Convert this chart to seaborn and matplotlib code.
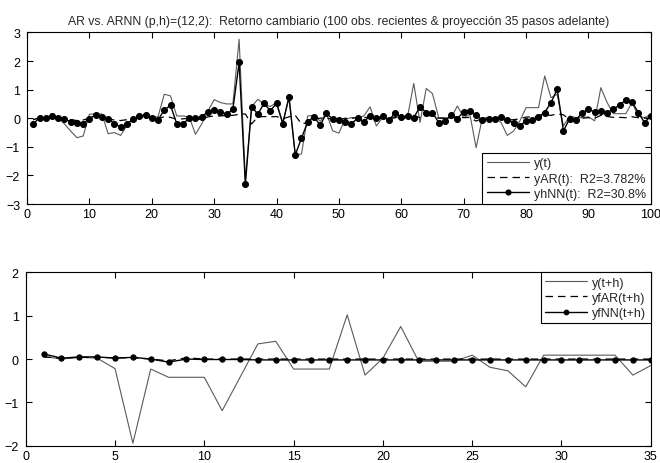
import numpy as np
import pandas as pd
import seaborn as sns
import matplotlib
matplotlib.use("Agg")
import matplotlib.pyplot as plt

# ---------------- data ----------------
t_top = list(range(1, 101))
y_t = [-0.05, 0.0, 0.02, 0.05, 0.05, -0.2, -0.45, -0.68, -0.62, 0.14,
       0.15, 0.15, -0.54, -0.5, -0.6, -0.25, 0.0, 0.05, 0.08, 0.05,
       0.05, 0.84, 0.78, 0.08, 0.08, 0.05, -0.56, -0.2, 0.25, 0.65,
       0.55, 0.5, 0.5, 2.76, -2.15, 0.41, 0.66, 0.49, 0.41, 0.55,
       -0.15, 0.72, -1.28, -1.25, 0.08, 0.1, -0.1, 0.17, -0.44, -0.52,
       -0.03, 0.02, 0.02, 0.08, 0.4, -0.27, 0.02, -0.03, 0.02, 0.05,
       0.05, 1.22, -0.15, 1.04, 0.86, 0.02, 0.02, 0.02, 0.43, 0.02,
       0.14, -1.03, 0.02, 0.0, 0.0, -0.15, -0.6, -0.45, -0.1, 0.37,
       0.37, 0.37, 1.48, 0.72, 0.84, -0.27, 0.08, 0.02, 0.02, 0.05,
       -0.09, 1.07, 0.55, 0.16, 0.16, 0.16, 0.55, 0.08, 0.02, 0.14]
yAR_t = [-0.05, 0.02, 0.0, 0.03, 0.02, 0.0, -0.05, -0.08, -0.06, 0.0,
         0.05, 0.04, -0.03, -0.06, -0.08, -0.05, 0.0, 0.02, 0.03, 0.02,
         0.0, 0.05, 0.03, -0.04, -0.02, 0.0, -0.05, -0.03, 0.05, 0.08,
         0.08, 0.1, 0.1, 0.14, 0.15, -0.2, 0.05, 0.06, 0.05, 0.06,
         -0.02, 0.05, 0.1, -0.2, -0.15, -0.02, 0.0, 0.02, -0.05, -0.06,
         0.0, 0.0, 0.02, 0.02, 0.05, -0.03, 0.0, 0.0, 0.02, 0.02,
         0.02, 0.1, 0.02, 0.1, 0.08, 0.0, 0.0, 0.02, 0.05, 0.02,
         0.03, -0.1, 0.0, 0.0, 0.0, -0.03, -0.06, -0.05, -0.02, 0.04,
         0.05, 0.05, 0.12, 0.1, 0.15, 0.12, -0.05, 0.0, 0.0, 0.02,
         0.0, 0.1, 0.06, 0.03, 0.03, 0.02, 0.05, 0.02, 0.0, 0.02]
yhNN_t = [-0.2, 0.02, 0.02, 0.08, 0.01, -0.03, -0.12, -0.15, -0.19, -0.01,
          0.12, 0.06, -0.01, -0.19, -0.3, -0.21, -0.03, 0.08, 0.12, 0.01,
          -0.06, 0.29, 0.45, -0.19, -0.2, 0.0, 0.0, 0.06, 0.23, 0.28,
          0.23, 0.14, 0.31, 1.95, -2.31, 0.41, 0.14, 0.52, 0.26, 0.52,
          -0.19, 0.75, -1.28, -0.7, -0.12, 0.05, -0.24, 0.17, -0.03, -0.07,
          -0.12, -0.19, 0.0, -0.12, 0.08, 0.0, 0.08, -0.06, 0.17, 0.05,
          0.08, 0.02, 0.4, 0.2, 0.2, -0.15, -0.09, 0.1, -0.01, 0.23,
          0.26, 0.1, -0.07, -0.03, -0.03, 0.06, -0.07, -0.15, -0.27, -0.08,
          -0.06, 0.06, 0.2, 0.55, 1.01, -0.44, -0.01, -0.07, 0.2, 0.31,
          0.22, 0.26, 0.2, 0.31, 0.47, 0.63, 0.57, 0.2, -0.15, 0.08]

t_bot = list(range(1, 36))
y_th = [0.06, 0.0, 0.04, 0.02, -0.22, -1.94, -0.23, -0.42, -0.42, -0.42,
        -1.19, -0.42, 0.35, 0.41, -0.23, -0.23, -0.23, 1.02, -0.37, 0.02,
        0.75, -0.05, -0.05, -0.05, 0.09, -0.19, -0.27, -0.64, 0.09, 0.09,
        0.09, 0.09, 0.09, -0.37, -0.15]
yfAR_th = [0.05, 0.02, 0.04, 0.04, 0.03, 0.03, 0.0, -0.04, 0.03, 0.0,
           0.0, 0.0, 0.0, 0.0, 0.0, 0.0, 0.0, 0.0, 0.0, 0.0,
           0.0, 0.0, 0.0, 0.0, 0.0, 0.0, 0.0, 0.0, 0.0, 0.0,
           0.0, 0.0, 0.0, 0.0, 0.0]
yfNN_th = [0.12, 0.02, 0.05, 0.05, 0.02, 0.04, 0.0, -0.07, 0.0, -0.01,
           -0.01, -0.01, -0.02, -0.02, -0.02, -0.02, -0.02, -0.02, -0.02, -0.02,
           -0.02, -0.02, -0.02, -0.02, -0.02, -0.02, -0.02, -0.02, -0.02, -0.02,
           -0.02, -0.02, -0.02, -0.02, -0.02]

title_txt = "AR vs. ARNN (p,h)=(12,2):  Retorno cambiario (100 obs. recientes & proyección 35 pasos adelante)"
top_labels = ["y(t)", "yAR(t):  R2=3.782%", "yhNN(t):  R2=30.8%"]
bot_labels = ["y(t+h)", "yfAR(t+h)", "yfNN(t+h)"]

# ---------------- style ----------------
sns.set_theme(style="white")
plt.rcParams["font.family"] = ["Liberation Sans", "DejaVu Sans"]
plt.rcParams.update({
    "axes.edgecolor": "black",
    "axes.linewidth": 0.8,
    "xtick.direction": "in",
    "ytick.direction": "in",
    "xtick.top": True,
    "ytick.right": True,
    "xtick.bottom": True,
    "ytick.left": True,
    "xtick.major.size": 4,
    "ytick.major.size": 4,
    "xtick.major.width": 0.8,
    "ytick.major.width": 0.8,
    "xtick.labelsize": 9,
    "ytick.labelsize": 9,
    "xtick.color": "black",
    "ytick.color": "black",
})

fig = plt.figure(figsize=(6.6, 4.64), dpi=100)
ax1 = fig.add_axes([0.041, 0.558, 0.945, 0.370])
ax2 = fig.add_axes([0.039, 0.037, 0.947, 0.374])

gray = "#5a5a5a"

df_top = pd.DataFrame({"t": t_top, "y": y_t, "ar": yAR_t, "nn": yhNN_t})
sns.lineplot(data=df_top, x="t", y="y", ax=ax1, color=gray, linewidth=0.8,
             label=top_labels[0])
sns.lineplot(data=df_top, x="t", y="ar", ax=ax1, color="black", linewidth=0.9,
             linestyle=(0, (6, 4)), label=top_labels[1])
sns.lineplot(data=df_top, x="t", y="nn", ax=ax1, color="black", linewidth=1.0,
             marker="o", markersize=4.3, markeredgecolor="black",
             markerfacecolor="black", label=top_labels[2])

df_bot = pd.DataFrame({"t": t_bot, "y": y_th, "ar": yfAR_th, "nn": yfNN_th})
sns.lineplot(data=df_bot, x="t", y="y", ax=ax2, color=gray, linewidth=0.8,
             label=bot_labels[0])
sns.lineplot(data=df_bot, x="t", y="ar", ax=ax2, color="black", linewidth=0.9,
             linestyle=(0, (6, 4)), label=bot_labels[1])
sns.lineplot(data=df_bot, x="t", y="nn", ax=ax2, color="black", linewidth=1.0,
             marker="o", markersize=3.8, markeredgecolor="black",
             markerfacecolor="black", label=bot_labels[2])

ax1.set_xlim(0, 100)
ax1.set_ylim(-3, 3)
ax1.set_xticks(range(0, 101, 10))
ax1.set_yticks(range(-3, 4))
ax2.set_xlim(0, 35)
ax2.set_ylim(-2, 2)
ax2.set_xticks(range(0, 36, 5))
ax2.set_yticks(range(-2, 3))

for ax in (ax1, ax2):
    ax.set_xlabel("")
    ax.set_ylabel("")
    ax.tick_params(axis="x", pad=3)
    ax.tick_params(axis="y", pad=5)
    for s in ax.spines.values():
        s.set_visible(True)
        s.set_color("black")
        s.set_linewidth(0.8)

ax1.set_title(title_txt, fontsize=8.8, pad=6)

leg1 = ax1.legend(loc="lower right", borderaxespad=0, fontsize=9,
                  fancybox=False, framealpha=1, edgecolor="black",
                  handlelength=3.4, labelspacing=0.25, borderpad=0.35,
                  handletextpad=0.4, markerscale=0.85)
leg1.get_frame().set_linewidth(0.8)
leg2 = ax2.legend(loc="upper right", borderaxespad=0, fontsize=9,
                  fancybox=False, framealpha=1, edgecolor="black",
                  handlelength=3.4, labelspacing=0.25, borderpad=0.35,
                  handletextpad=0.4, markerscale=0.9)
leg2.get_frame().set_linewidth(0.8)

fig.savefig("out.png", dpi=100)
